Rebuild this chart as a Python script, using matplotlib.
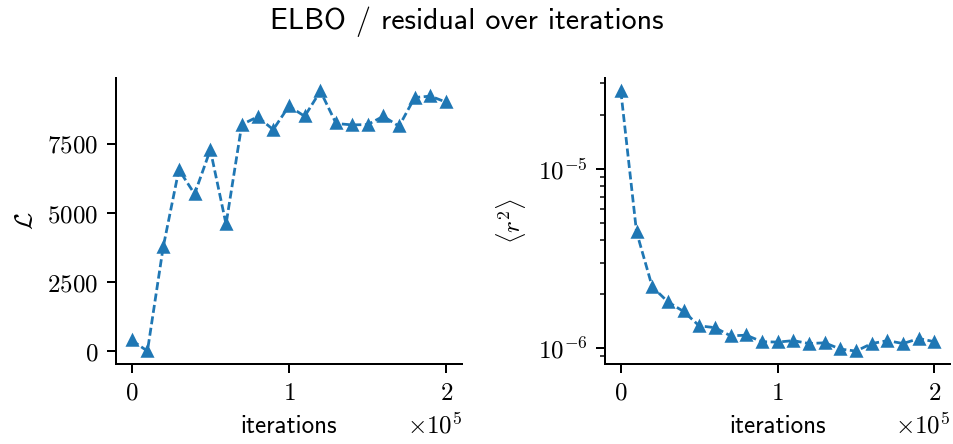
import numpy as np
import matplotlib
matplotlib.use('Agg')
import matplotlib.pyplot as plt
from matplotlib import ticker

plt.rcParams['font.family'] = ['cmss10', 'DejaVu Sans']
plt.rcParams['mathtext.fontset'] = 'cm'
plt.rcParams['axes.spines.top'] = False
plt.rcParams['axes.spines.right'] = False

# data
iterations = np.arange(0, 200001, 10000)
elbo = [400, 10, 3760, 6570, 5690, 7290, 4600, 8200, 8480, 8020, 8870,
        8500, 9410, 8240, 8190, 8200, 8500, 8140, 9180, 9230, 9010]
resid = [2.71e-5, 4.45e-6, 2.20e-6, 1.81e-6, 1.60e-6, 1.33e-6, 1.30e-6,
         1.17e-6, 1.18e-6, 1.085e-6, 1.08e-6, 1.10e-6, 1.06e-6, 1.07e-6,
         0.987e-6, 0.962e-6, 1.06e-6, 1.10e-6, 1.06e-6, 1.13e-6, 1.085e-6]


def x_formatter():
    f = ticker.FuncFormatter(lambda x, pos: f'${x / 1e5:g}$')
    f.set_offset_string(r'$\times10^{5}$')
    return f


line_kw = dict(color='#1f77b4', marker='^', markersize=4.3,
               linestyle=(0, (2.9, 1.3)), linewidth=1.1)

dpi = 180
fig = plt.figure(figsize=(953 / dpi, 444 / dpi), dpi=dpi)
ax1 = fig.add_axes([0.1217, 0.180, 0.363, 0.644])
ax2 = fig.add_axes([0.635, 0.180, 0.362, 0.644])

ax1.plot(iterations, elbo, **line_kw)
ax1.set_ylabel(r'$\mathcal{L}$')
ax1.set_xlabel('iterations')
ax1.xaxis.set_major_formatter(x_formatter())
ax1.yaxis.set_major_locator(ticker.MultipleLocator(2500))
ax1.yaxis.set_major_formatter(ticker.FuncFormatter(lambda y, pos: f'${y:g}$'))

ax2.plot(iterations, resid, **line_kw)
ax2.set_yscale('log')
ax2.set_ylabel(r'$\langle r^2 \rangle$')
ax2.set_xlabel('iterations')
ax2.xaxis.set_major_formatter(x_formatter())
ax2.yaxis.set_major_formatter(ticker.FuncFormatter(
    lambda y, pos: f'$10^{{{int(round(np.log10(y)))}}}$'))
ax2.yaxis.set_minor_formatter(ticker.NullFormatter())

for ax in (ax1, ax2):
    ax.xaxis.set_major_locator(ticker.MultipleLocator(100000))

fig.suptitle('ELBO / residual over iterations', fontsize=12, x=0.49, y=0.985)

fig.savefig('out.png', dpi=dpi)
